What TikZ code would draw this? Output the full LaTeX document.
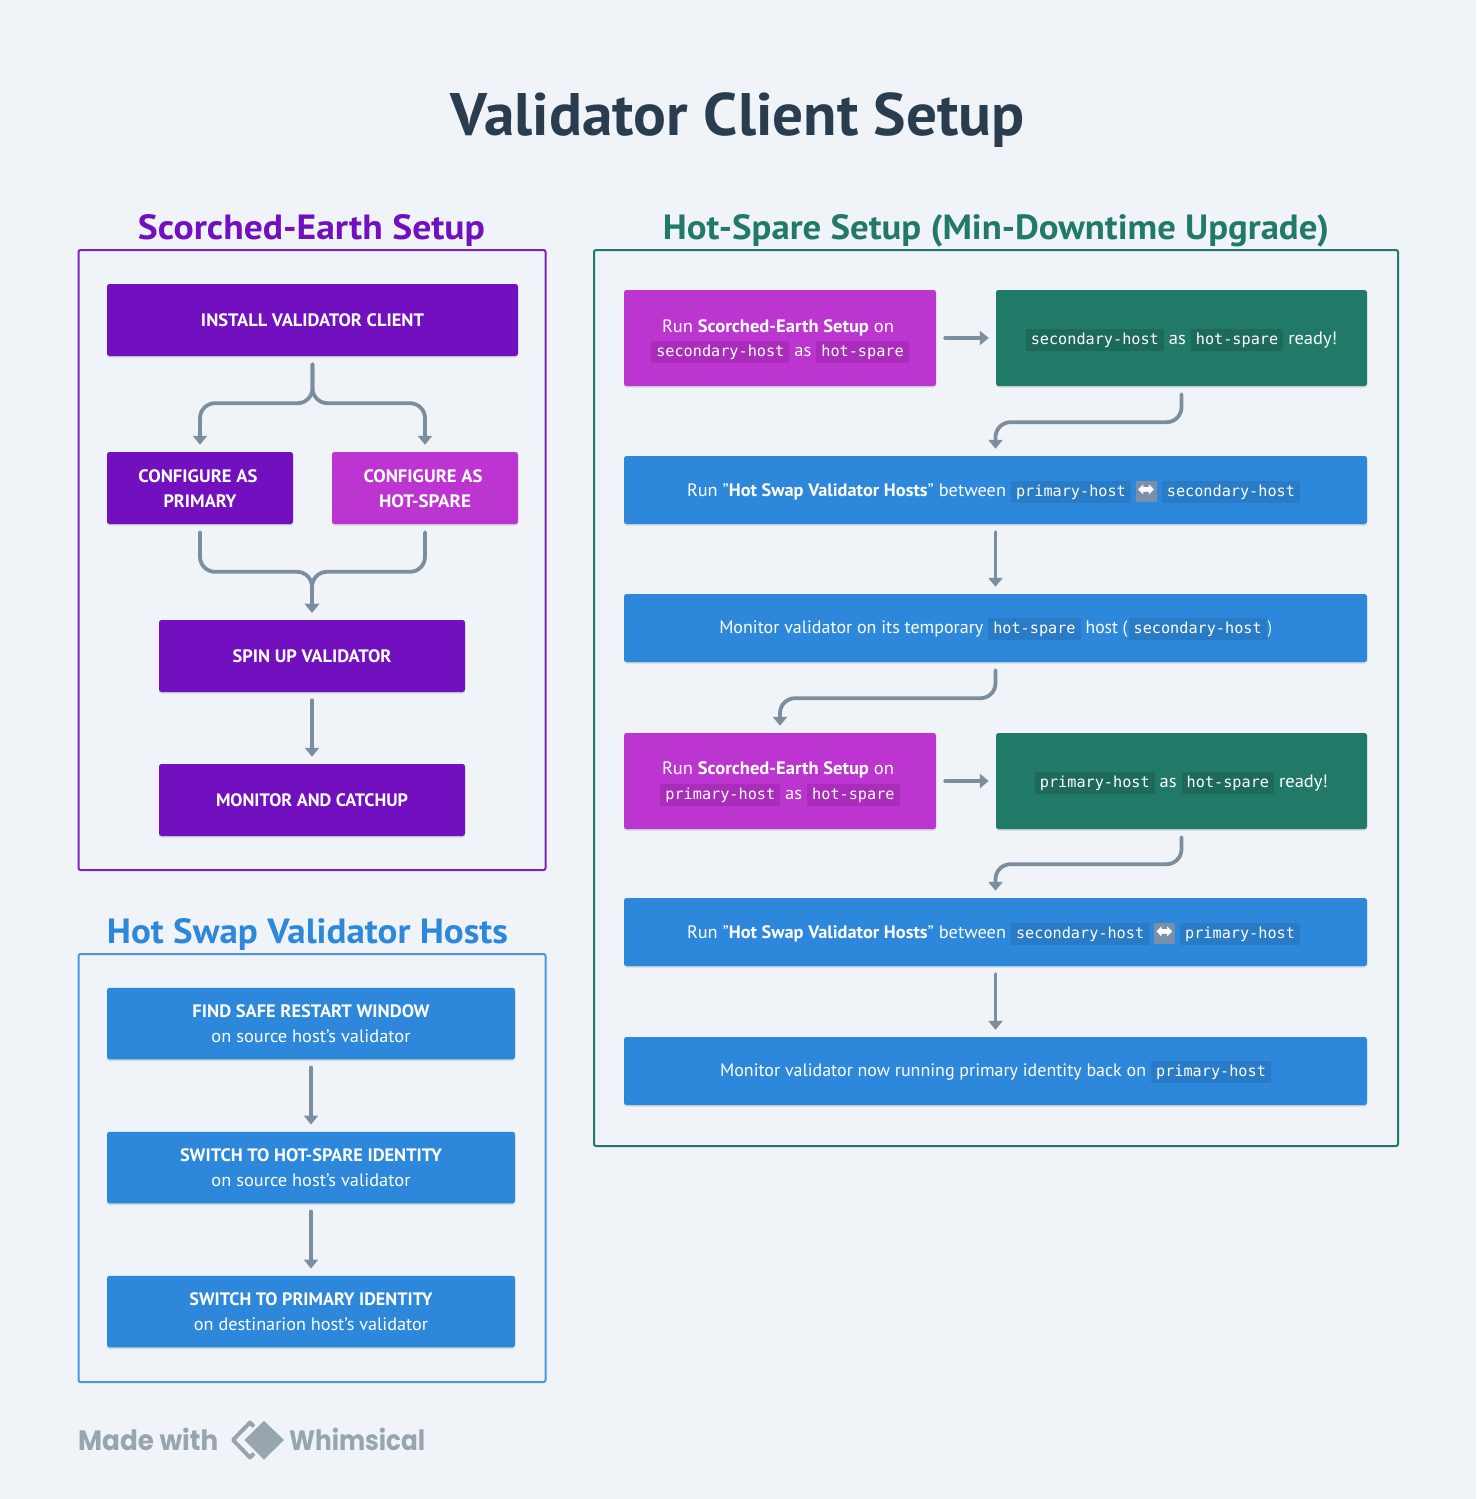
\documentclass[tikz,border=0pt]{standalone}
\usepackage{fontspec}
\usepackage{graphicx}
\usepackage{xcolor}
\usetikzlibrary{arrows.meta,shadows,calc}
\setmainfont{PT Sans}
\newfontfamily\codef{DejaVu Sans Mono}
\newfontfamily\symf{DejaVu Sans}
\newfontfamily\brandf{Poppins}
\definecolor{pagebg}{HTML}{F0F4F8}
\definecolor{inkdark}{HTML}{2A3D4F}
\definecolor{purp}{HTML}{720FBE}
\definecolor{magen}{HTML}{BD35D0}
\definecolor{greenb}{HTML}{217A68}
\definecolor{blueb}{HTML}{2D88DB}
\definecolor{purpline}{HTML}{7B22C0}
\definecolor{blueline}{HTML}{4A97DC}
\definecolor{arrowc}{HTML}{7C8D9E}
\definecolor{brandc}{HTML}{98A4AE}
\definecolor{chipm}{HTML}{A92DBA}
\definecolor{chipg}{HTML}{1D6A5B}
\definecolor{chipb}{HTML}{2A7BC6}
\definecolor{emojic}{HTML}{7A90AA}
\newcommand\fitw[2]{\resizebox{#1pt}{\height}{#2}}
\newcommand\dn[2]{\raisebox{-#1pt}[\height][\depth]{#2}}
\newcommand\chip[2]{{\setlength{\fboxsep}{0pt}\colorbox{#1}{\hspace{5pt}\rule[-6.5pt]{0pt}{22pt}{\codef\fontsize{15.2}{20}\selectfont #2}\hspace{5pt}}}}
\newcommand\swapicon{{\setlength{\fboxsep}{0pt}\colorbox{emojic}{\makebox[21pt]{\rule[-6pt]{0pt}{21pt}{\symf\fontsize{21}{20}\selectfont ⬌}}}}}
\newcommand\gp{\hspace{5pt}}
\tikzset{
  flowbox/.style={rectangle,rounded corners=2.5pt,inner sep=0pt,align=center,text=white,
    drop shadow={shadow xshift=0pt,shadow yshift=-1.5pt,opacity=.12,fill=black},
    font={\fontsize{18}{25}\selectfont\lineskiplimit-50pt\relax}},
  purpbox/.style={flowbox,fill=purp},
  magbox/.style={flowbox,fill=magen},
  grnbox/.style={flowbox,fill=greenb},
  blubox/.style={flowbox,fill=blueb},
  panel/.style={rectangle,draw=#1,line width=2pt,rounded corners=2pt,fill=none,inner sep=0pt},
  conn/.style={draw=arrowc,line width=3.8pt,line cap=round,rounded corners=15pt,
    shorten <=8pt,shorten >=7pt,-{Triangle[width=14pt,length=9pt]}},
  titletext/.style={anchor=base,inner sep=0pt,font=\fontsize{#1}{#1}\selectfont\bfseries},
  brandtext/.style={anchor=base west,inner sep=0pt,text=brandc,font=\brandf\fontsize{28}{30}\selectfont\bfseries},
}
\begin{document}
\begin{tikzpicture}[x=1pt,y=-1pt]
\useasboundingbox (0,0) rectangle (1476,1499);
\fill[pagebg] (0,0) rectangle (1476,1499);

\node[titletext=60,text=inkdark] (title) at (738,135) {\fitw{574}{Validator Client Setup}};
\node[titletext=35,text=purp] (t1) at (311.5,239) {\fitw{347}{Scorched-Earth Setup}};
\node[titletext=35,text=greenb] (t2) at (996,239) {\fitw{666}{Hot-Spare Setup (Min-Downtime Upgrade)}};
\node[titletext=35,text=blueb] (t3) at (307.5,943) {\fitw{401}{Hot Swap Validator Hosts}};

\node[panel=purpline,minimum width=467pt,minimum height=620pt] (p1) at (312,560) {};
\node[panel=blueline,minimum width=467pt,minimum height=428pt] (p3) at (312,1168) {};
\node[panel=greenb,minimum width=804pt,minimum height=896pt] (p2) at (996,698) {};

% Scorched-earth
\node[purpbox,minimum width=411pt,minimum height=72pt] (install) at (312.5,320) {\bfseries\dn{0.2}{\fitw{223}{INSTALL VALIDATOR CLIENT}}};
\node[purpbox,minimum width=186pt,minimum height=72pt] (prim) at (200,488) {\bfseries\dn{0.2}{\fitw{119}{CONFIGURE AS}}\kern4pt\\\bfseries\dn{0.2}{\fitw{73}{PRIMARY}}};
\node[magbox,minimum width=186pt,minimum height=72pt] (hot) at (425,488) {\bfseries\dn{0.2}{\fitw{119}{CONFIGURE AS}}\kern4pt\\\bfseries\dn{0.2}{\fitw{92}{HOT-SPARE}}};
\node[purpbox,minimum width=306pt,minimum height=72pt] (spin) at (312,656) {\bfseries\dn{0.2}{\fitw{159}{SPIN UP VALIDATOR}}};
\node[purpbox,minimum width=306pt,minimum height=72pt] (mon) at (312,800) {\bfseries\dn{0.2}{\fitw{192}{MONITOR AND CATCHUP}}};

\coordinate (forkL) at ($(install.south)+(-112.5,47)$);
\coordinate (forkR) at ($(install.south)+(112.5,47)$);
\coordinate (forkC) at ($(install.south)+(0,47)$);
\draw[conn] (install.south) -- (forkC) -- (forkL) -- (prim.north);
\draw[conn] (install.south) -- (forkC) -- (forkR) -- (hot.north);
\coordinate (mergeC) at ($(spin.north)+(0,-48)$);
\draw[conn] (prim.south) |- (mergeC) -- (spin.north);
\draw[conn] (hot.south) |- (mergeC) -- (spin.north);
\draw[conn] (spin) -- (mon);

% Hot swap
\node[blubox,minimum width=408pt,minimum height=71.5pt] (s1) at (311,1023.5) {\bfseries\dn{0.2}{\fitw{237}{FIND SAFE RESTART WINDOW}}\\\dn{0.2}{\fitw{199}{on source host's validator}}};
\node[blubox,minimum width=408pt,minimum height=71.5pt] (s2) at (311,1167.5) {\bfseries\dn{0.2}{\fitw{262}{SWITCH TO HOT-SPARE IDENTITY}}\\\dn{0.2}{\fitw{199}{on source host's validator}}};
\node[blubox,minimum width=408pt,minimum height=71.5pt] (s3) at (311,1311.5) {\bfseries\dn{0.2}{\fitw{243}{SWITCH TO PRIMARY IDENTITY}}\\\dn{0.2}{\fitw{234}{on destinarion host's validator}}};
\draw[conn] (s1) -- (s2);
\draw[conn] (s2) -- (s3);

% Hot spare
\node[magbox,minimum width=312pt,minimum height=96pt] (r1) at (780,338) {\dn{3.5}{\fitw{232}{Run \textbf{Scorched-Earth Setup} on}}\kern4pt\\\dn{3}{\chip{chipm}{secondary-host}\gp\fitw{17}{as}\gp\chip{chipm}{hot-spare}}};
\node[grnbox,minimum width=371pt,minimum height=96pt] (r2) at (1181.5,338) {\dn{2}{\chip{chipg}{secondary-host}\gp\fitw{17}{as}\gp\chip{chipg}{hot-spare}\gp\fitw{49}{ready!}}};
\node[blubox,minimum width=743pt,minimum height=68pt] (r3) at (995.5,490) {\dn{1.5}{\fitw{319}{Run "\textbf{Hot Swap Validator Hosts}" between}\gp\chip{chipb}{primary-host}\gp\swapicon\gp\chip{chipb}{secondary-host}}\kern4pt};
\node[blubox,minimum width=743pt,minimum height=68pt] (r4) at (995.5,628) {\dn{1}{\fitw{264}{Monitor validator on its temporary}\gp\chip{chipb}{hot-spare}\gp\fitw{42}{host (}\kern1pt\chip{chipb}{secondary-host}\kern1pt\fitw{4}{)}}};
\node[magbox,minimum width=312pt,minimum height=96pt] (r5) at (780,781) {\dn{3}{\fitw{232}{Run \textbf{Scorched-Earth Setup} on}}\kern4pt\\\dn{3}{\chip{chipm}{primary-host}\gp\fitw{17}{as}\gp\chip{chipm}{hot-spare}}};
\node[grnbox,minimum width=371pt,minimum height=96pt] (r6) at (1181.5,781) {\dn{1.5}{\chip{chipg}{primary-host}\gp\fitw{17}{as}\gp\chip{chipg}{hot-spare}\gp\fitw{49}{ready!}}};
\node[blubox,minimum width=743pt,minimum height=68pt] (r7) at (995.5,932) {\dn{1.5}{\fitw{319}{Run "\textbf{Hot Swap Validator Hosts}" between}\gp\chip{chipb}{secondary-host}\gp\swapicon\gp\chip{chipb}{primary-host}}\kern4pt};
\node[blubox,minimum width=743pt,minimum height=68pt] (r8) at (995.5,1071) {\dn{1}{\fitw{426}{Monitor validator now running primary identity back on}\gp\chip{chipb}{primary-host}}};

\draw[conn,shorten <=9pt] (r1) -- (r2);
\draw[conn] (r2.south) -- ++(0,36) coordinate (b1) -- (b1 -| r3.north) -- (r3.north);
\draw[conn] (r3) -- (r4);
\draw[conn] (r4.south) -- ++(0,36) coordinate (b2) -- (b2 -| r5.north) -- (r5.north);
\draw[conn,shorten <=9pt] (r5) -- (r6);
\draw[conn] (r6.south) -- ++(0,35) coordinate (b3) -- (b3 -| r7.north) -- (r7.north);
\draw[conn] (r7) -- (r8);

% Footer
\node[brandtext] (made) at (78,1450) {\fitw{140}{Made with}};
\node[brandtext] (whim) at (289,1450) {\fitw{136}{Whimsical}};
\draw[brandc,line width=4pt,line join=round] (250,1422.5) -- (233,1440) -- (250,1457.5) -- (267,1440) -- cycle;
\fill[brandc,draw=pagebg,line width=3pt,line join=round] (264,1419) -- (285.5,1440) -- (264,1461) -- (242.5,1440) -- cycle;
\fill[brandc,line join=round] (264,1421) -- (284,1440) -- (264,1459.5) -- (244.5,1440) -- cycle;
\end{tikzpicture}
\end{document}
